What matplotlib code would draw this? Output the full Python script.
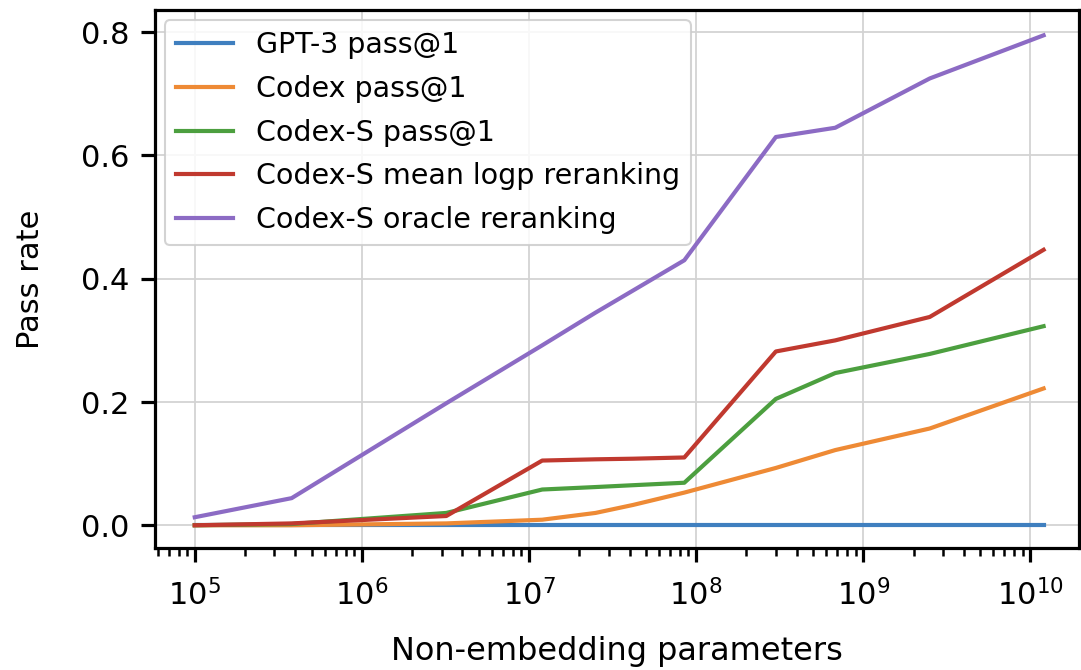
import matplotlib
matplotlib.use("Agg")
import matplotlib.pyplot as plt

params = [1e5, 3.8e5, 3.2e6, 1.2e7, 2.5e7, 4.2e7, 8.5e7, 3e8, 6.8e8, 2.5e9, 1.2e10]

gpt3 = [0, 0, 0, 0, 0, 0, 0, 0, 0, 0, 0]
codex = [0, 0, 0.003, 0.009, 0.02, 0.033, 0.053, 0.093, 0.122, 0.157, 0.222]
codex_s = [0, 0.002, 0.02, 0.058, 0.062, 0.065, 0.069, 0.205, 0.247, 0.278, 0.323]
codex_s_logp = [0, 0.003, 0.015, 0.105, 0.107, 0.108, 0.11, 0.282, 0.30, 0.338, 0.447]
codex_s_oracle = [0.013, 0.044, 0.198, 0.292, 0.345, 0.381, 0.43, 0.63, 0.645, 0.725, 0.795]

labels = ["GPT-3 pass@1", "Codex pass@1", "Codex-S pass@1",
          "Codex-S mean logp reranking", "Codex-S oracle reranking"]
colors = ["#3f7fbf", "#ee8a35", "#4c9f3f", "#c0392f", "#8c6bc4"]

plt.rcParams["font.family"] = "DejaVu Sans"
fig = plt.figure(figsize=(10.81, 6.70), dpi=100)
ax = fig.add_axes([0.143, 0.182, 0.855, 0.803])

series = [gpt3, codex, codex_s, codex_s_logp, codex_s_oracle]
for ys, lab, col in zip(series, labels, colors):
    ax.plot(params, ys, color=col, lw=3.0, label=lab)

ax.set_xscale("log")
ax.set_xlim(5.75e4, 1.95e10)
ax.set_ylim(-0.037, 0.836)
ax.set_yticks([0.0, 0.2, 0.4, 0.6, 0.8])
ax.grid(True, which="major", color="#d3d3d3", lw=1.3)

for s in ax.spines.values():
    s.set_linewidth(2.3)
ax.tick_params(axis="both", which="major", labelsize=22, length=10, width=2.3, direction="out")
ax.tick_params(axis="x", which="minor", length=6, width=1.8)
ax.tick_params(axis="x", pad=12)
ax.tick_params(axis="y", pad=8)

ax.set_xlabel("Non-embedding parameters", fontsize=23, labelpad=18)
ax.set_ylabel("Pass rate", fontsize=22, labelpad=26)

leg = ax.legend(loc="upper left", fontsize=20.5, frameon=True, fancybox=True,
                framealpha=0.85, edgecolor="#cccccc", handlelength=2.0,
                borderaxespad=0.35, labelspacing=0.55)
leg.get_frame().set_linewidth(1.5)

fig.savefig("out.png", dpi=100)
